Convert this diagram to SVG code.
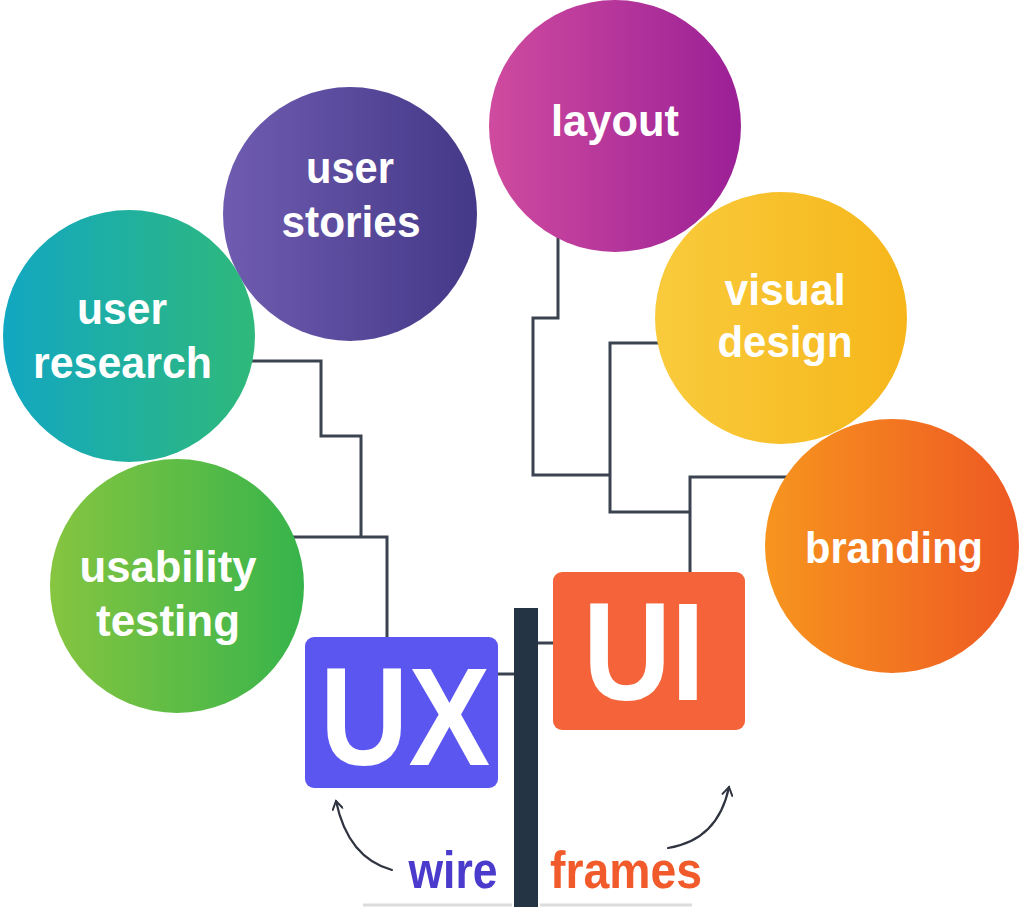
<svg xmlns="http://www.w3.org/2000/svg" width="1019" height="907" viewBox="0 0 1019 907">
<style>
.conn{fill:none;stroke:#3b4250;stroke-width:3;stroke-linejoin:miter}
.lbl{font-family:"Liberation Sans",Arial,sans-serif;font-weight:bold;font-size:45px;fill:#ffffff;text-anchor:middle;lengthAdjust:spacingAndGlyphs}
.big{font-family:"Liberation Sans",Arial,sans-serif;font-weight:bold;font-size:140px;fill:#ffffff;text-anchor:middle}
.bot{font-family:"Liberation Sans",Arial,sans-serif;font-weight:bold;font-size:52px;text-anchor:middle}
.arr{fill:none;stroke:#2f3440;stroke-width:2.2;stroke-linecap:round}
</style>
<defs>
<linearGradient id="gStories" x1="0" y1="0" x2="1" y2="0"><stop offset="0" stop-color="#6f5cb0"/><stop offset="1" stop-color="#443888"/></linearGradient>
<linearGradient id="gLayout" x1="0" y1="0" x2="1" y2="0"><stop offset="0" stop-color="#cf4b9f"/><stop offset="1" stop-color="#9b2096"/></linearGradient>
<linearGradient id="gResearch" x1="0" y1="0" x2="1" y2="0"><stop offset="0" stop-color="#12a7c2"/><stop offset="1" stop-color="#2fb97a"/></linearGradient>
<linearGradient id="gVisual" x1="0" y1="0" x2="1" y2="0"><stop offset="0" stop-color="#f9cb3c"/><stop offset="1" stop-color="#f6b61b"/></linearGradient>
<linearGradient id="gUsability" x1="0" y1="0" x2="1" y2="0"><stop offset="0" stop-color="#86c540"/><stop offset="1" stop-color="#37b44b"/></linearGradient>
<linearGradient id="gBranding" x1="0" y1="0" x2="1" y2="0"><stop offset="0" stop-color="#f7951e"/><stop offset="1" stop-color="#ee5823"/></linearGradient>
<marker id="vhead" viewBox="0 0 12 12" refX="10" refY="6" markerWidth="12" markerHeight="12" markerUnits="userSpaceOnUse" orient="auto">
<path d="M2,1 L10,6 L2,11" fill="none" stroke="#2f3440" stroke-width="2" stroke-linecap="round"/>
</marker>
</defs>
<rect width="1019" height="907" fill="#ffffff"/>

<g id="connectors">
<path class="conn" d="M240,361 H321 V436 H361 V537"/>
<path class="conn" d="M280,537 H387 V638"/>
<path class="conn" d="M558,236 V318 H533 V475 H609"/>
<path class="conn" d="M665,343 H610 V512 H690"/>
<path class="conn" d="M800,477 H690 V574"/>
<path class="conn" d="M496,674 H516"/>
<path class="conn" d="M536,643 H555"/>
<path class="arr" d="M392,870 Q348,858 336,801" marker-end="url(#vhead)"/>
<path class="arr" d="M668,848 Q718,840 729,787" marker-end="url(#vhead)"/>
</g>

<g id="pole">
<rect x="514" y="608" width="24" height="299" fill="#253445"/>
<line x1="363" y1="905" x2="512" y2="905" stroke="#dcdcdc" stroke-width="3"/>
<line x1="540" y1="905" x2="692" y2="905" stroke="#dcdcdc" stroke-width="3"/>
</g>

<g id="user-stories">
<circle cx="350" cy="214" r="127" fill="url(#gStories)"/>
<text class="lbl" x="350" y="183" textLength="88" lengthAdjust="spacingAndGlyphs">user</text>
<text class="lbl" x="351" y="237" textLength="139" lengthAdjust="spacingAndGlyphs">stories</text>
</g>

<g id="layout">
<circle cx="615" cy="126" r="126" fill="url(#gLayout)"/>
<text class="lbl" x="615" y="136" textLength="128" lengthAdjust="spacingAndGlyphs">layout</text>
</g>

<g id="user-research">
<circle cx="129" cy="336" r="126" fill="url(#gResearch)"/>
<text class="lbl" x="122" y="324" textLength="90" lengthAdjust="spacingAndGlyphs">user</text>
<text class="lbl" x="122.5" y="378" textLength="179" lengthAdjust="spacingAndGlyphs">research</text>
</g>

<g id="visual-design">
<circle cx="781" cy="318" r="126" fill="url(#gVisual)"/>
<text class="lbl" x="785" y="305" textLength="121" lengthAdjust="spacingAndGlyphs">visual</text>
<text class="lbl" x="785" y="357" textLength="135" lengthAdjust="spacingAndGlyphs">design</text>
</g>

<g id="usability-testing">
<circle cx="177" cy="586" r="127" fill="url(#gUsability)"/>
<text class="lbl" x="168" y="582" textLength="177" lengthAdjust="spacingAndGlyphs">usability</text>
<text class="lbl" x="168" y="636" textLength="144" lengthAdjust="spacingAndGlyphs">testing</text>
</g>

<g id="branding">
<circle cx="892" cy="546" r="127" fill="url(#gBranding)"/>
<text class="lbl" x="894" y="563" textLength="178" lengthAdjust="spacingAndGlyphs">branding</text>
</g>

<g id="ux">
<rect x="305" y="637" width="193" height="151" rx="9" fill="#5c56f0"/>
<text class="big" x="405" y="765" textLength="170" lengthAdjust="spacingAndGlyphs">UX</text>
</g>

<g id="ui">
<rect x="553" y="572" width="192" height="158" rx="9" fill="#f4633a"/>
<text class="big" x="644" y="700" textLength="122" lengthAdjust="spacingAndGlyphs">UI</text>
</g>

<g id="wireframes-label">
<text class="bot" x="453" y="888" fill="#4a3bcc" textLength="89" lengthAdjust="spacingAndGlyphs">wire</text>
<text class="bot" x="626" y="888" fill="#f15a2b" textLength="152" lengthAdjust="spacingAndGlyphs">frames</text>
</g>
</svg>
